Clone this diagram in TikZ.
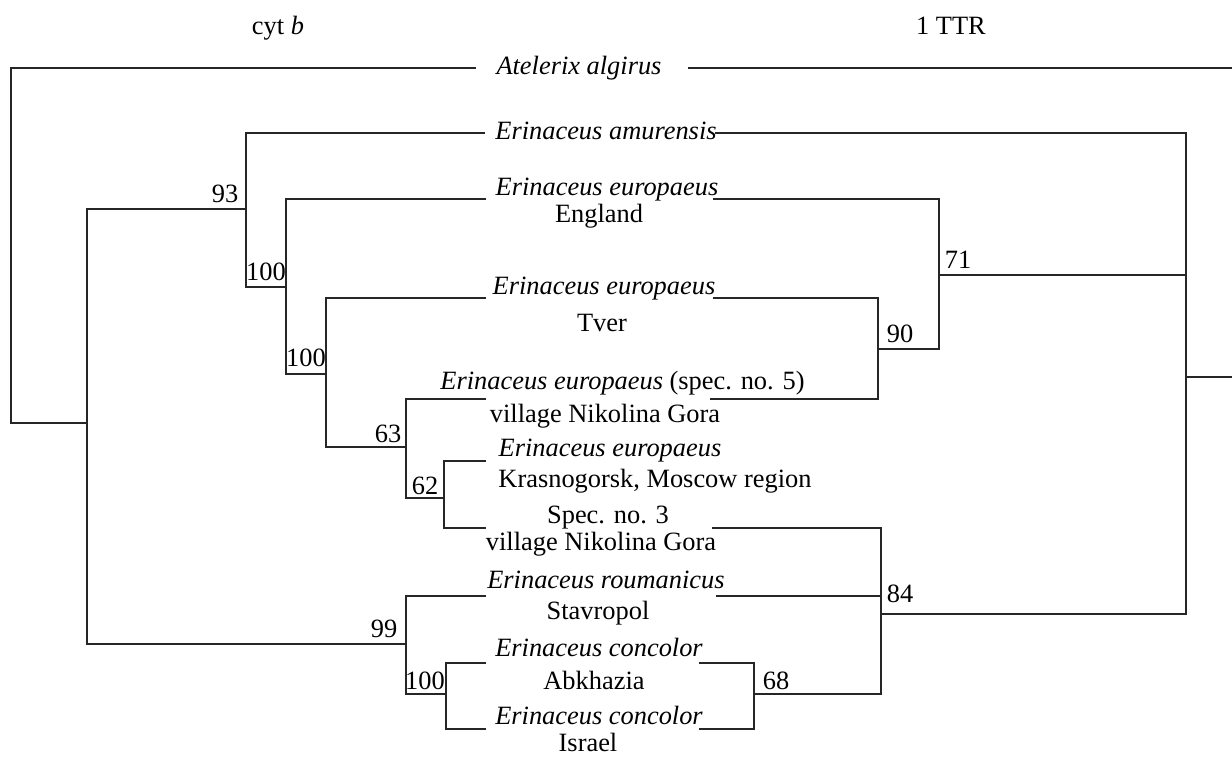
\documentclass[tikz,border=0pt]{standalone}
\usepackage{fontspec}
\setmainfont{Liberation Serif}
\begin{document}
\begin{tikzpicture}[x=1pt,y=-1pt,
  every node/.style={inner sep=0pt, anchor=base, font=\fontsize{26.4}{30}\selectfont},
  branch/.style={line width=1.2pt, draw=black!85},
  sp/.style={font=\fontsize{26.4}{30}\selectfont\itshape}]
\useasboundingbox (0,0) rectangle (1232,758);
% titles
\node (cyt) at (278,34) {cyt \textit{b}};
\node (ttr) at (951,34) {1 TTR};
% leaf texts
\node[sp] (at) at (579,74) {Atelerix algirus};
\node[sp] (am) at (606,139) {Erinaceus amurensis};
\node[sp] (en1) at (607,195) {Erinaceus europaeus};
\node (en2) at (599,222) {England};
\node[sp] (tv1) at (604,294) {Erinaceus europaeus};
\node (tv2) at (602,331) {Tver};
\node (s51) at (622.5,389) {\textit{Erinaceus europaeus} (spec. no. 5)};
\node (s52) at (605,422) {village Nikolina Gora};
\node[sp] (kr1) at (610,456) {Erinaceus europaeus};
\node (kr2) at (655,487) {Krasnogorsk, Moscow region};
\node (s31) at (608,523) {Spec. no. 3};
\node (s32) at (601,550) {village Nikolina Gora};
\node[sp] (ro1) at (606,588) {Erinaceus roumanicus};
\node (ro2) at (598,619) {Stavropol};
\node[sp] (ca1) at (599,656) {Erinaceus concolor};
\node (ca2) at (594,689) {Abkhazia};
\node[sp] (ci1) at (599,724) {Erinaceus concolor};
\node (ci2) at (588,751) {Israel};
% support labels
\node (l93) at (225,202) {93};
\node (l100a) at (266,280) {100};
\node (l100b) at (306,366) {100};
\node (l63) at (388,442) {63};
\node (l62) at (425,494) {62};
\node (l99) at (384,637) {99};
\node (l100c) at (425,689) {100};
\node (l71) at (958,268) {71};
\node (l90) at (900,342) {90};
\node (l84) at (900,602) {84};
\node (l68) at (776,689) {68};
% left tree coordinates
\coordinate (R0) at (11,245);
\coordinate (atL) at (476,68);
\coordinate (A) at (87,423);
\coordinate (B93) at (246,209);
\coordinate (C100) at (286,287);
\coordinate (D100) at (326,374);
\coordinate (E63) at (406,447);
\coordinate (F62) at (444,498);
\coordinate (G99) at (406,644);
\coordinate (H100) at (446,694);
\coordinate (amL) at (485,133);
\coordinate (enL) at (486,199);
\coordinate (tvL) at (486,298);
\coordinate (s5L) at (486,399);
\coordinate (krL) at (486,461);
\coordinate (s3L) at (486,528);
\coordinate (roL) at (486,596);
\coordinate (caL) at (486,663);
\coordinate (ciL) at (486,729);
% right tree coordinates
\coordinate (atR) at (688,68);
\coordinate (atE) at (1232,68);
\coordinate (RR) at (1186,377);
\coordinate (RE) at (1232,377);
\coordinate (P71) at (939,275);
\coordinate (Q90) at (878,349);
\coordinate (S84) at (881,614);
\coordinate (T68) at (754,694);
\coordinate (amR) at (715,133);
\coordinate (enR) at (713,199);
\coordinate (tvR) at (713,298);
\coordinate (s5R) at (710,399);
\coordinate (s3R) at (712,528);
\coordinate (roR) at (716,596);
\coordinate (caR) at (699,663);
\coordinate (ciR) at (699,729);
% left tree
\draw[branch] (atL) -| (R0) |- (A);
\draw[branch] (B93) -| (A) |- (G99);
\draw[branch] (amL) -| (B93) |- (C100);
\draw[branch] (enL) -| (C100) |- (D100);
\draw[branch] (tvL) -| (D100) |- (E63);
\draw[branch] (s5L) -| (E63) |- (F62);
\draw[branch] (krL) -| (F62) |- (s3L);
\draw[branch] (roL) -| (G99) |- (H100);
\draw[branch] (caL) -| (H100) |- (ciL);
% right tree
\draw[branch] (atR) -- (atE);
\draw[branch] (amR) -| (RR) |- (S84);
\draw[branch] (P71) -| (RR);
\draw[branch] (RR) -- (RE);
\draw[branch] (enR) -| (P71) |- (Q90);
\draw[branch] (tvR) -| (Q90) |- (s5R);
\draw[branch] (s3R) -| (S84) |- (T68);
\draw[branch] (roR) -| (S84);
\draw[branch] (caR) -| (T68) |- (ciR);
\end{tikzpicture}
\end{document}
